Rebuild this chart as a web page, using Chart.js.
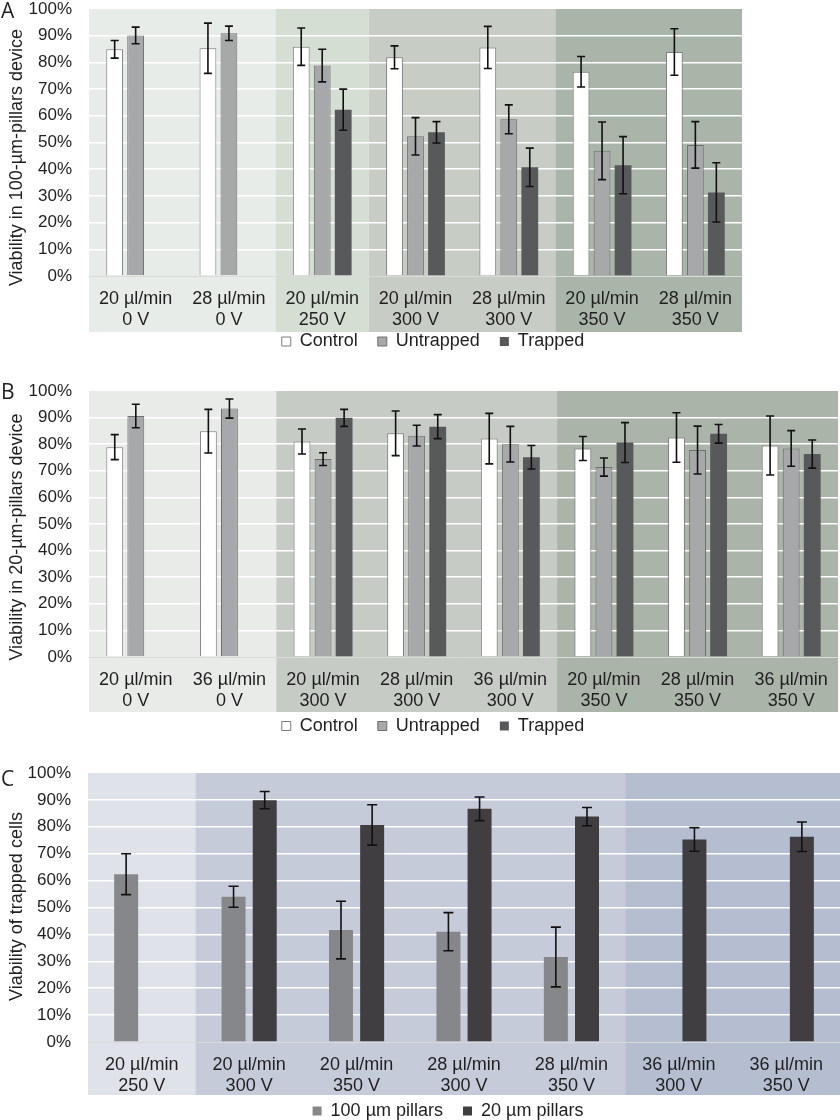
<!DOCTYPE html>
<html>
<head>
<meta charset="utf-8">
<script src="https://cdn.jsdelivr.net/npm/chart.js@4.4.1/dist/chart.umd.min.js"></script>
<style>
  html, body { margin: 0; padding: 0; background: #fff; }
  body { width: 840px; height: 1120px; position: relative; overflow: hidden; }
  canvas { position: absolute; left: 0; }
  .tag { position: absolute; left: 1px; font-family: "Open Sans", sans-serif; font-size: 21px; line-height: 1; color: #1f1f1f; }
</style>
</head>
<body>
<canvas id="chartA" width="840" height="401" style="top:-21px"></canvas>
<canvas id="chartB" width="840" height="399" style="top:361px"></canvas>
<canvas id="chartC" width="840" height="400" style="top:743px"></canvas>
<div class="tag" style="top:0px">A</div>
<div class="tag" style="top:381px">B</div>
<div class="tag" style="top:768px">C</div>
<script>
// --- panel A: 100 um pillars device
const labelsA = [['20 µl/min', '0 V'], ['28 µl/min', '0 V'], ['20 µl/min', '250 V'], ['20 µl/min', '300 V'],
                 ['28 µl/min', '300 V'], ['20 µl/min', '350 V'], ['28 µl/min', '350 V']];
const controlA = [84.9, 85.3, 85.9, 81.9, 85.6, 76.5, 83.9];
const controlErrA = [3.3, 9.4, 7.0, 4.3, 7.9, 5.7, 8.7];
const untrappedA = [90.1, 90.9, 78.8, 52.3, 58.7, 46.9, 49.1];
const untrappedErrA = [3.1, 2.7, 6.1, 7.0, 5.4, 10.8, 8.7];
const trappedA = [null, null, 62.3, 53.8, 40.7, 41.5, 31.3];
const trappedErrA = [null, null, 7.7, 4.0, 7.2, 10.7, 11.1];

// --- panel B: 20 um pillars device
const labelsB = [['20 µl/min', '0 V'], ['36 µl/min', '0 V'], ['20 µl/min', '300 V'], ['28 µl/min', '300 V'],
                 ['36 µl/min', '300 V'], ['20 µl/min', '350 V'], ['28 µl/min', '350 V'], ['36 µl/min', '350 V']];
const controlB = [78.9, 84.9, 81.0, 84.1, 82.1, 78.4, 82.5, 79.5];
const controlErrB = [4.7, 8.2, 4.7, 8.4, 9.5, 4.5, 9.3, 11.1];
const untrappedB = [90.6, 93.4, 74.4, 83.2, 80.0, 71.4, 77.8, 78.4];
const untrappedErrB = [4.4, 3.6, 2.4, 3.9, 6.7, 3.4, 9.0, 6.7];
const trappedB = [null, null, 89.9, 86.6, 75.1, 80.6, 83.9, 76.3];
const trappedErrB = [null, null, 3.2, 4.5, 4.4, 7.5, 3.5, 5.3];

// --- panel C: trapped cells, both devices
const labelsC = [['20 µl/min', '250 V'], ['20 µl/min', '300 V'], ['20 µl/min', '350 V'], ['28 µl/min', '300 V'],
                 ['28 µl/min', '350 V'], ['36 µl/min', '300 V'], ['36 µl/min', '350 V']];
const pillars100 = [62.4, 54.0, 41.6, 41.0, 31.6, null, null];
const pillars100Err = [7.6, 3.9, 10.7, 7.1, 11.1, null, null];
const pillars20 = [null, 89.9, 80.7, 86.7, 83.8, 75.3, 76.3];
const pillars20Err = [null, 3.2, 7.5, 4.4, 3.4, 4.4, 5.5];

const yMin = 0, yMax = 100, yStep = 10;

const FONT = '"Liberation Sans", Arial, sans-serif';
Chart.defaults.font.family = FONT;
Chart.defaults.color = '#1f1f1f';

// background bands, error bars, y title and legend placement
const panelPlugin = {
    id: 'panel',
    beforeDraw(chart, args, o) {
        const {ctx, chartArea} = chart;
        const x = chart.scales.x;
        const n = chart.data.labels.length;
        const edge = i => i <= 0 ? chartArea.left : i >= n ? chartArea.right
            : (x.getPixelForValue(i - 1) + x.getPixelForValue(i)) / 2;
        ctx.save();
        o.bands.forEach(b => {
            const x0 = edge(b.from), x1 = edge(b.to + 1);
            ctx.fillStyle = b.color;
            ctx.fillRect(x0, chartArea.top, x1 - x0, x.bottom - chartArea.top);
        });
        ctx.restore();
    },
    afterLayout(chart, args, o) {
        const lg = chart.legend;
        const x = chart.scales.x;
        const lab = lg.options.labels;
        const textMid = lg.top + lab.padding + lab.font.size / 2;
        const dy = x.bottom + o.legendGap - textMid;
        lg.left += o.legendDx; lg.right += o.legendDx;
        lg.top += dy; lg.bottom += dy;
    },
    afterDatasetsDraw(chart, args, o) {
        const {ctx} = chart;
        const y = chart.scales.y;
        ctx.save();
        ctx.strokeStyle = '#111';
        ctx.lineWidth = 1.6;
        chart.data.datasets.forEach((ds, di) => {
            const meta = chart.getDatasetMeta(di);
            ds.errors.forEach((e, i) => {
                const v = ds.data[i];
                if (v == null || e == null) return;
                const bx = meta.data[i].x;
                const t = y.getPixelForValue(v + e), b = y.getPixelForValue(v - e);
                ctx.beginPath();
                ctx.moveTo(bx, t); ctx.lineTo(bx, b);
                ctx.moveTo(bx - o.cap, t); ctx.lineTo(bx + o.cap, t);
                ctx.moveTo(bx - o.cap, b); ctx.lineTo(bx + o.cap, b);
                ctx.stroke();
            });
        });
        ctx.restore();
    },
    afterDraw(chart, args, o) {
        // y axis title, a bit off the plot centre like the original
        const {ctx, chartArea} = chart;
        ctx.save();
        ctx.translate(17, (chartArea.top + chartArea.bottom) / 2 + o.titleDy);
        ctx.rotate(-Math.PI / 2);
        ctx.font = '18px ' + FONT;
        ctx.fillStyle = '#1f1f1f';
        ctx.textAlign = 'center';
        ctx.textBaseline = 'middle';
        ctx.fillText(o.title, 0, 0);
        ctx.restore();
    }
};

function makeChart(id, labels, datasets, o) {
    return new Chart(document.getElementById(id), {
        type: 'bar',
        data: {labels: labels, datasets: datasets},
        options: {
            responsive: false,
            animation: false,
            devicePixelRatio: 1,
            categoryPercentage: o.catPct,
            barPercentage: o.barPct,
            layout: {padding: {top: 30, right: o.padRight, bottom: 0, left: 0}},
            scales: {
                x: {
                    grid: {display: false, drawTicks: false},
                    border: {display: true, color: '#d8dbd8', width: 1},
                    ticks: {padding: 12, maxRotation: 0, autoSkip: false, color: '#1f1f1f', font: {size: 18}},
                    afterFit: s => { s.height = o.stripH; }
                },
                y: {
                    min: yMin, max: yMax,
                    ticks: {stepSize: yStep, padding: 17, color: '#1f1f1f', font: {size: 17}, callback: v => v + '%'},
                    grid: {
                        drawTicks: false, lineWidth: 1.5,
                        color: c => (c.tick.value > yMin && c.tick.value < yMax) ? '#ffffff' : 'rgba(0,0,0,0)'
                    },
                    border: {display: false},
                    afterFit: s => { s.width = o.axisW; }
                }
            },
            plugins: {
                legend: {
                    position: 'bottom',
                    labels: {boxWidth: 9, boxHeight: 9, padding: 20, color: '#1f1f1f', font: {size: 18}}
                },
                tooltip: {enabled: false},
                panel: {bands: o.bands, legendDx: o.legendDx, legendGap: o.legendGap, cap: o.cap,
                        title: o.yTitle, titleDy: o.titleDy}
            }
        },
        plugins: [panelPlugin]
    });
}

const ctrlStyle = {backgroundColor: '#ffffff', borderColor: '#7b7b7b', borderWidth: 1};
const untrStyle = {backgroundColor: '#a7a8aa', borderColor: '#6e6e6e', borderWidth: 1};
const trapStyle = {backgroundColor: '#58595b', borderColor: '#58595b', borderWidth: 0};

makeChart('chartA', labelsA, [
    Object.assign({label: 'Control', data: controlA, errors: controlErrA}, ctrlStyle),
    Object.assign({label: 'Untrapped', data: untrappedA, errors: untrappedErrA}, untrStyle),
    Object.assign({label: 'Trapped', data: trappedA, errors: trappedErrA}, trapStyle)
], {
    yTitle: 'Viability in 100-µm-pillars device', titleDy: 15,
    catPct: 0.675, barPct: 0.8, padRight: 98, axisW: 89, stripH: 56,
    legendDx: 62, legendGap: 9.5, cap: 4,
    bands: [
        {from: 0, to: 1, color: '#e8ece8'},
        {from: 2, to: 2, color: '#d4ded3'},
        {from: 3, to: 4, color: '#c7cdc5'},
        {from: 5, to: 6, color: '#aab5a9'}
    ]
});

makeChart('chartB', labelsB, [
    Object.assign({label: 'Control', data: controlB, errors: controlErrB}, ctrlStyle),
    Object.assign({label: 'Untrapped', data: untrappedB, errors: untrappedErrB}, untrStyle),
    Object.assign({label: 'Trapped', data: trappedB, errors: trappedErrB}, trapStyle)
], {
    yTitle: 'Viability in 20-µm-pillars device', titleDy: 13,
    catPct: 0.675, barPct: 0.8, padRight: 2, axisW: 89, stripH: 55,
    legendDx: 14, legendGap: 14, cap: 4,
    bands: [
        {from: 0, to: 1, color: '#e8ebe8'},
        {from: 2, to: 4, color: '#c6ccc5'},
        {from: 5, to: 7, color: '#aab4a9'}
    ]
});

makeChart('chartC', labelsC, [
    {label: '100 µm pillars', data: pillars100, errors: pillars100Err, backgroundColor: '#86878a', borderWidth: 0},
    {label: '20 µm pillars', data: pillars20, errors: pillars20Err, backgroundColor: '#413e42', borderWidth: 0}
], {
    yTitle: 'Viability of trapped cells', titleDy: -1,
    catPct: 0.58, barPct: 0.77, padRight: 0, axisW: 88, stripH: 53,
    legendDx: 28, legendGap: 16, cap: 5,
    bands: [
        {from: 0, to: 0, color: '#dfe2e9'},
        {from: 1, to: 4, color: '#c6cbd9'},
        {from: 5, to: 6, color: '#b5bed1'}
    ]
});
</script>
</body>
</html>
